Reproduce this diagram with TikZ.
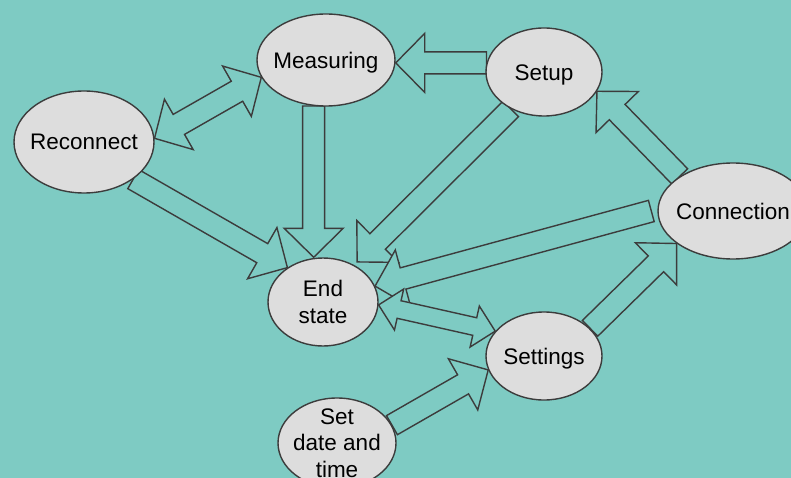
\documentclass[tikz,border=0pt]{standalone}
\usepackage{fontspec}
\setmainfont{Liberation Sans}
\usetikzlibrary{calc,shapes.geometric}
\definecolor{bgteal}{RGB}{126,203,195}
\definecolor{ellfill}{RGB}{221,221,221}
\definecolor{edgegray}{RGB}{60,60,60}
\pgfdeclarelayer{back}
\pgfdeclarelayer{arrows}
\pgfsetlayers{back,arrows,main}
\newcommand\blockarr[5]{%
  \coordinate (ba) at ($(#2)!#5!(#1)$);
  \draw[blockline] ($(#1)!#3!90:(#2)$) -- ($(ba)!#3!90:(#2)$) -- ($(ba)!#4!90:(#2)$) -- (#2) -- ($(ba)!#4!-90:(#2)$) -- ($(ba)!#3!-90:(#2)$) -- ($(#1)!#3!-90:(#2)$) -- cycle;}
\newcommand\dblarr[5]{%
  \coordinate (ba) at ($(#2)!#5!(#1)$);
  \coordinate (bb) at ($(#1)!#5!(#2)$);
  \draw[blockline] (#1) -- ($(bb)!#4!90:(#2)$) -- ($(bb)!#3!90:(#2)$) -- ($(ba)!#3!90:(#2)$) -- ($(ba)!#4!90:(#2)$) -- (#2) -- ($(ba)!#4!-90:(#2)$) -- ($(ba)!#3!-90:(#2)$) -- ($(bb)!#3!-90:(#2)$) -- ($(bb)!#4!-90:(#2)$) -- cycle;}
\newcommand\bigarr[2]{\blockarr{#1}{#2}{11pt}{29.5pt}{29pt}}
\begin{document}
\begin{tikzpicture}[x=1pt,y=-1pt,
  st/.style={ellipse, draw=edgegray, fill=ellfill, line width=1.4pt, inner sep=0pt},
  lbl/.style={font=\fontsize{22.5}{26.5}\selectfont, align=center, inner sep=0pt, text=black},
  dsc/.style={yshift=-2.5pt},
  blockline/.style={draw=edgegray, fill=bgteal, line width=1.4pt, line join=miter}]
\useasboundingbox (0,0) rectangle (791,478);
\begin{pgfonlayer}{back}
\fill[bgteal] (0,0) rectangle (791,478);
\end{pgfonlayer}
% states
\node[st, minimum width=138pt, minimum height=92pt, label={[lbl,dsc]center:Measuring}] (meas) at (326,60) {};
\node[st, minimum width=140pt, minimum height=102pt, label={[lbl]center:Reconnect}] (rec) at (84,142) {};
\node[st, minimum width=116pt, minimum height=88pt, label={[lbl,dsc]center:Setup}] (setup) at (544,72) {};
\node[st, minimum width=150pt, minimum height=96pt, label={[lbl]center:Connection}] (conn) at (733,211) {};
\node[st, minimum width=110pt, minimum height=88pt, label={[lbl]center:{End\\state}}] (endst) at (323,302) {};
\node[st, minimum width=116pt, minimum height=88pt, label={[lbl,dsc]center:Settings}] (sett) at (544,356) {};
\node[st, minimum width=118pt, minimum height=90pt, label={[lbl]center:{Set\\date and\\time}}] (sdt) at (337,443) {};
% end points
\coordinate (a1s) at (setup.171);
\coordinate (a1e) at (meas.east |- a1s);
\coordinate (a3s) at (meas.-105);
\coordinate (a3e) at (a3s |- endst.north);
\coordinate (a5s) at (setup.-132);
\coordinate (a5e) at ($(endst.50)+(3,-3)$);
\coordinate (a7s) at ($(conn.west)+(-6,0)$);
\begin{pgfonlayer}{arrows}
\bigarr{a1s}{a1e}
\dblarr{rec.3}{meas.195}{11.5pt}{29pt}{28pt}
\bigarr{a3s}{a3e}
\bigarr{rec.-37}{endst.136}
\bigarr{a5s}{a5e}
\bigarr{conn.147}{setup.-20}
\bigarr{sett.31}{conn.-150}
\bigarr{sdt.18}{sett.194}
\bigarr{a7s}{endst.17}
\dblarr{endst.-3}{sett.153}{9pt}{21pt}{21pt}
\end{pgfonlayer}
\end{tikzpicture}
\end{document}
